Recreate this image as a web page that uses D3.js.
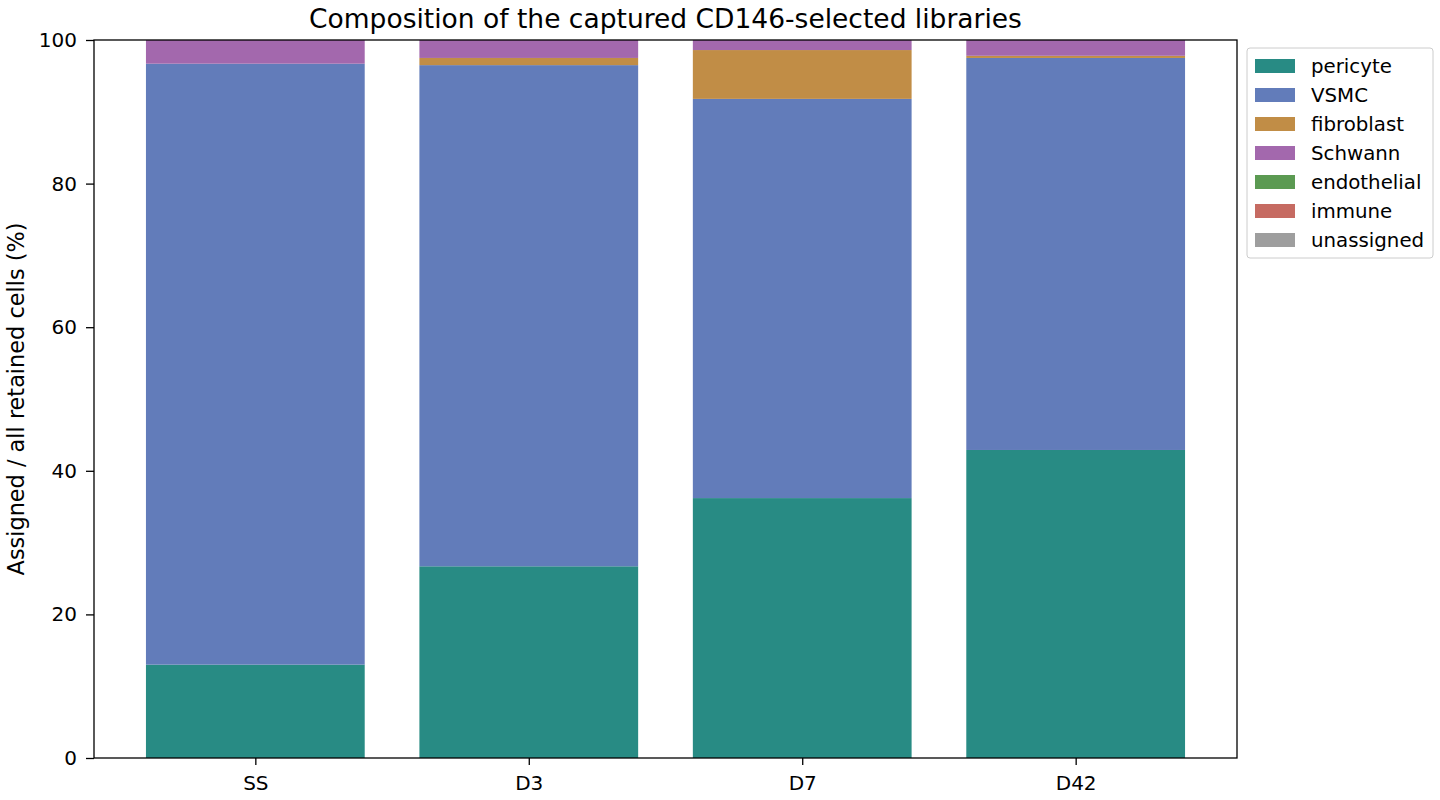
<!DOCTYPE html>
<html>
<head>
<meta charset="utf-8">
<script src="https://cdn.jsdelivr.net/npm/d3@7"></script>
<style>
  body { margin: 0; background: #fff; }
  text { font-family: "DejaVu Sans", sans-serif; fill: #000; }
</style>
</head>
<body>
<script>
var width = 1440, height = 800;

// data
var libraries = ["SS", "D3", "D7", "D42"];
var cellTypes = ["pericyte", "VSMC", "fibroblast", "Schwann", "endothelial", "immune", "unassigned"];
var colors = ["#288b84", "#627cba", "#c18d46", "#a368ad", "#5b9a52", "#c66b62", "#9e9e9e"];
var pericyte = [13.0, 26.7, 36.2, 42.9];
var vsmc = [83.7, 69.8, 55.6, 54.6];
var fibroblast = [0.0, 1.0, 6.8, 0.3];
var schwann = [3.3, 2.5, 1.4, 2.2];
var endothelial = [0, 0, 0, 0];
var immune = [0, 0, 0, 0];
var unassigned = [0, 0, 0, 0];
var yTicks = [0, 20, 40, 60, 80, 100];

var series = [pericyte, vsmc, fibroblast, schwann, endothelial, immune, unassigned];
var rows = libraries.map(function(lib, i) {
  var r = { lib: lib, idx: i };
  cellTypes.forEach(function(t, j) { r[t] = series[j][i]; });
  return r;
});
var stacked = d3.stack().keys(cellTypes)(rows);

var pLeft = 94, pRight = 1237, pTop = 40, pBottom = 758;

var x = d3.scaleLinear().domain([-0.59, 3.59]).range([pLeft, pRight]);
var y = d3.scaleLinear().domain([0, 100]).range([pBottom, pTop]);
var barW = 0.8;

var svg = d3.select("body").append("svg")
  .attr("width", width)
  .attr("height", height);

// bars
svg.append("g").selectAll("g")
  .data(stacked)
  .join("g")
  .attr("fill", function(d, i) { return colors[i]; })
  .selectAll("rect")
  .data(function(d) { return d; })
  .join("rect")
  .attr("x", function(d) { return x(d.data.idx - barW / 2); })
  .attr("width", function(d) { return x(barW) - x(0); })
  .attr("y", function(d) { return y(d[1]); })
  .attr("height", function(d) { return y(d[0]) - y(d[1]); });

// axes
var xAxis = svg.append("g")
  .attr("transform", "translate(0," + pBottom + ")")
  .call(d3.axisBottom(x).tickValues(d3.range(libraries.length))
    .tickFormat(function(d) { return libraries[d]; })
    .tickSize(7).tickPadding(10));
var yAxis = svg.append("g")
  .attr("transform", "translate(" + pLeft + ",0)")
  .call(d3.axisLeft(y).tickValues(yTicks).tickSize(8).tickPadding(9));

[xAxis, yAxis].forEach(function(a) {
  a.select(".domain").remove();
  a.selectAll("line").attr("stroke", "#000").attr("stroke-width", 1.3);
  a.selectAll("text").style("font-size", "20px").attr("fill", "#000");
});
xAxis.selectAll("text").attr("dy", "0.73em");

// frame
svg.append("rect")
  .attr("x", pLeft).attr("y", pTop)
  .attr("width", pRight - pLeft).attr("height", pBottom - pTop)
  .attr("fill", "none").attr("stroke", "#000").attr("stroke-width", 1.3);

// title & label
svg.append("text")
  .attr("x", (pLeft + pRight) / 2).attr("y", 28)
  .attr("text-anchor", "middle")
  .style("font-size", "26.5px")
  .text("Composition of the captured CD146-selected libraries");

svg.append("text")
  .attr("transform", "translate(24," + (pTop + pBottom) / 2 + ") rotate(-90)")
  .attr("text-anchor", "middle")
  .style("font-size", "22.4px")
  .text("Assigned / all retained cells (%)");

// legend
var lg = svg.append("g").attr("transform", "translate(1247,48)");
lg.append("rect")
  .attr("width", 186).attr("height", 210).attr("rx", 3)
  .attr("fill", "#fff").attr("stroke", "#ccc").attr("stroke-width", 1);
cellTypes.forEach(function(t, i) {
  var row = lg.append("g").attr("transform", "translate(8," + (11 + i * 29) + ")");
  row.append("rect").attr("width", 40).attr("height", 14).attr("fill", colors[i]);
  row.append("text").attr("x", 56).attr("y", 14)
    .style("font-size", "19.8px").text(t);
});
</script>
</body>
</html>
